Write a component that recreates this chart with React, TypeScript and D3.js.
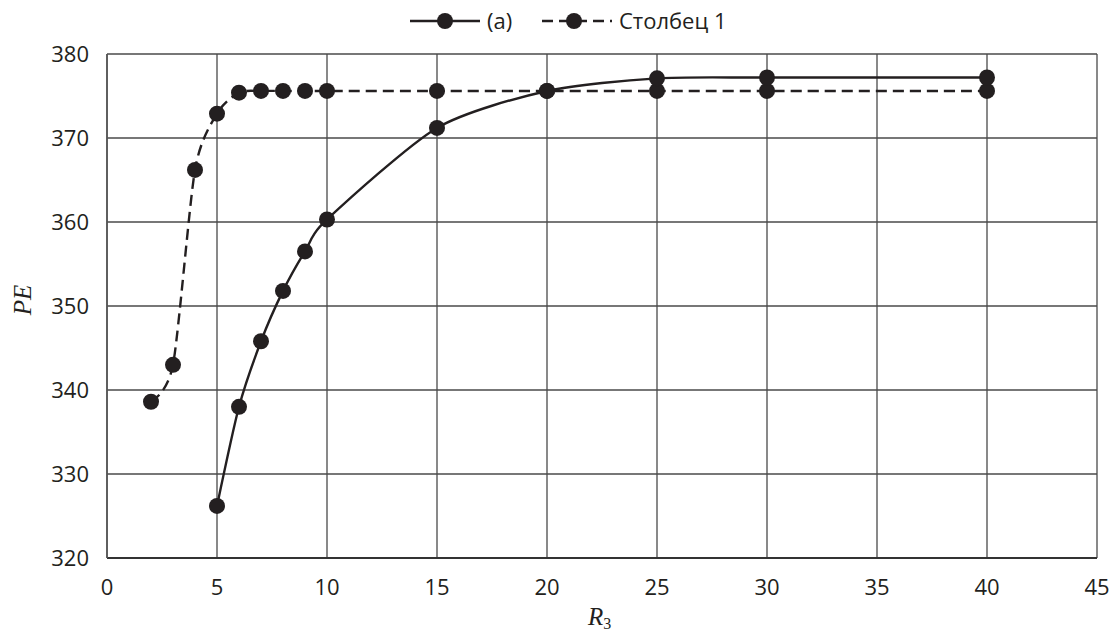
import React from "react";
import * as d3 from "d3";

const xTicks = [0, 5, 10, 15, 20, 25, 30, 35, 40, 45];
const yTicks = [320, 330, 340, 350, 360, 370, 380];

const seriesAX = [5, 6, 7, 8, 9, 10, 15, 20, 25, 30, 40];
const seriesAY = [326.2, 338.0, 345.8, 351.8, 356.5, 360.3, 371.2, 375.6, 377.1, 377.2, 377.2];

const series1X = [2, 3, 4, 5, 6, 7, 8, 9, 10, 15, 20, 25, 30, 40];
const series1Y = [338.6, 343.0, 366.2, 372.9, 375.4, 375.6, 375.6, 375.6, 375.6, 375.6, 375.6, 375.6, 375.6, 375.6];

const legendLabels = ["(a)", "Столбец 1"];

const W = 1120;
const H = 634;
const M = { left: 107, right: 1097, top: 54, bottom: 558 };
const INK = "#231f20";
const FONT = "'Open Sans', 'Noto Sans', sans-serif";
const SERIF = "'Liberation Serif', 'DejaVu Serif', serif";

export default function App() {
  const x = d3.scaleLinear().domain([0, 45]).range([M.left, M.right]);
  const y = d3.scaleLinear().domain([320, 380]).range([M.bottom, M.top]);

  const line = d3
    .line<[number, number]>()
    .x((d) => x(d[0]))
    .y((d) => y(d[1]))
    .curve(d3.curveCardinal.tension(0.25));

  const ptsA: [number, number][] = seriesAX.map((v, i) => [v, seriesAY[i]]);
  const pts1: [number, number][] = series1X.map((v, i) => [v, series1Y[i]]);

  const dash = "11,6";
  const r = 8;
  const ly = 21;

  return (
    <svg
      width={W}
      height={H}
      style={{ position: "absolute", left: 0, top: 0, background: "#fff" }}
    >
      {/* grid */}
      {xTicks.map((t) => (
        <line key={"gx" + t} x1={x(t)} x2={x(t)} y1={M.top} y2={M.bottom} stroke="#4a4a4a" strokeWidth={1.3} />
      ))}
      {yTicks.map((t) => (
        <line key={"gy" + t} x1={M.left} x2={M.right} y1={y(t)} y2={y(t)} stroke="#4a4a4a" strokeWidth={1.3} />
      ))}
      <line x1={M.left} x2={M.right} y1={M.bottom} y2={M.bottom} stroke="#333" strokeWidth={2} />
      <line x1={M.left} x2={M.left} y1={M.top} y2={M.bottom} stroke="#555" strokeWidth={1.6} />

      {/* tick labels */}
      {yTicks.map((t) => (
        <text key={"ty" + t} x={89} y={y(t)} dy="0.36em" textAnchor="end" fontFamily={FONT} fontSize={22} fill={INK}>
          {t}
        </text>
      ))}
      {xTicks.map((t) => (
        <text key={"tx" + t} x={x(t)} y={587} dy="0.36em" textAnchor="middle" fontFamily={FONT} fontSize={22} fill={INK}>
          {t}
        </text>
      ))}

      {/* axis titles */}
      <text
        transform={`translate(31,${(M.top + M.bottom) / 2 - 6}) rotate(-90)`}
        textAnchor="middle"
        fontFamily={SERIF}
        fontStyle="italic"
        fontSize={25}
        fill={INK}
      >
        PE
      </text>
      <text x={588} y={625} fontFamily={SERIF} fontStyle="italic" fontSize={25} fill={INK}>
        R<tspan dy="4" fontSize={16} fontStyle="normal">3</tspan>
      </text>

      {/* series */}
      <path d={line(pts1) || ""} fill="none" stroke={INK} strokeWidth={2.4} strokeDasharray={dash} />
      <path d={line(ptsA) || ""} fill="none" stroke={INK} strokeWidth={2.4} />
      {pts1.map((p, i) => (
        <circle key={"c1" + i} cx={x(p[0])} cy={y(p[1])} r={r} fill={INK} />
      ))}
      {ptsA.map((p, i) => (
        <circle key={"ca" + i} cx={x(p[0])} cy={y(p[1])} r={r} fill={INK} />
      ))}

      {/* legend */}
      <g>
        <line x1={410} x2={480} y1={ly} y2={ly} stroke={INK} strokeWidth={2.4} />
        <circle cx={445} cy={ly} r={r} fill={INK} />
        <text x={487} y={ly} dy="0.36em" fontFamily={FONT} fontSize={22} fill={INK}>
          {legendLabels[0]}
        </text>
        <line x1={542} x2={612} y1={ly} y2={ly} stroke={INK} strokeWidth={2.4} strokeDasharray={dash} />
        <circle cx={574} cy={ly} r={r} fill={INK} />
        <text x={619} y={ly} dy="0.36em" fontFamily={FONT} fontSize={22} fill={INK}>
          {legendLabels[1]}
        </text>
      </g>
    </svg>
  );
}
